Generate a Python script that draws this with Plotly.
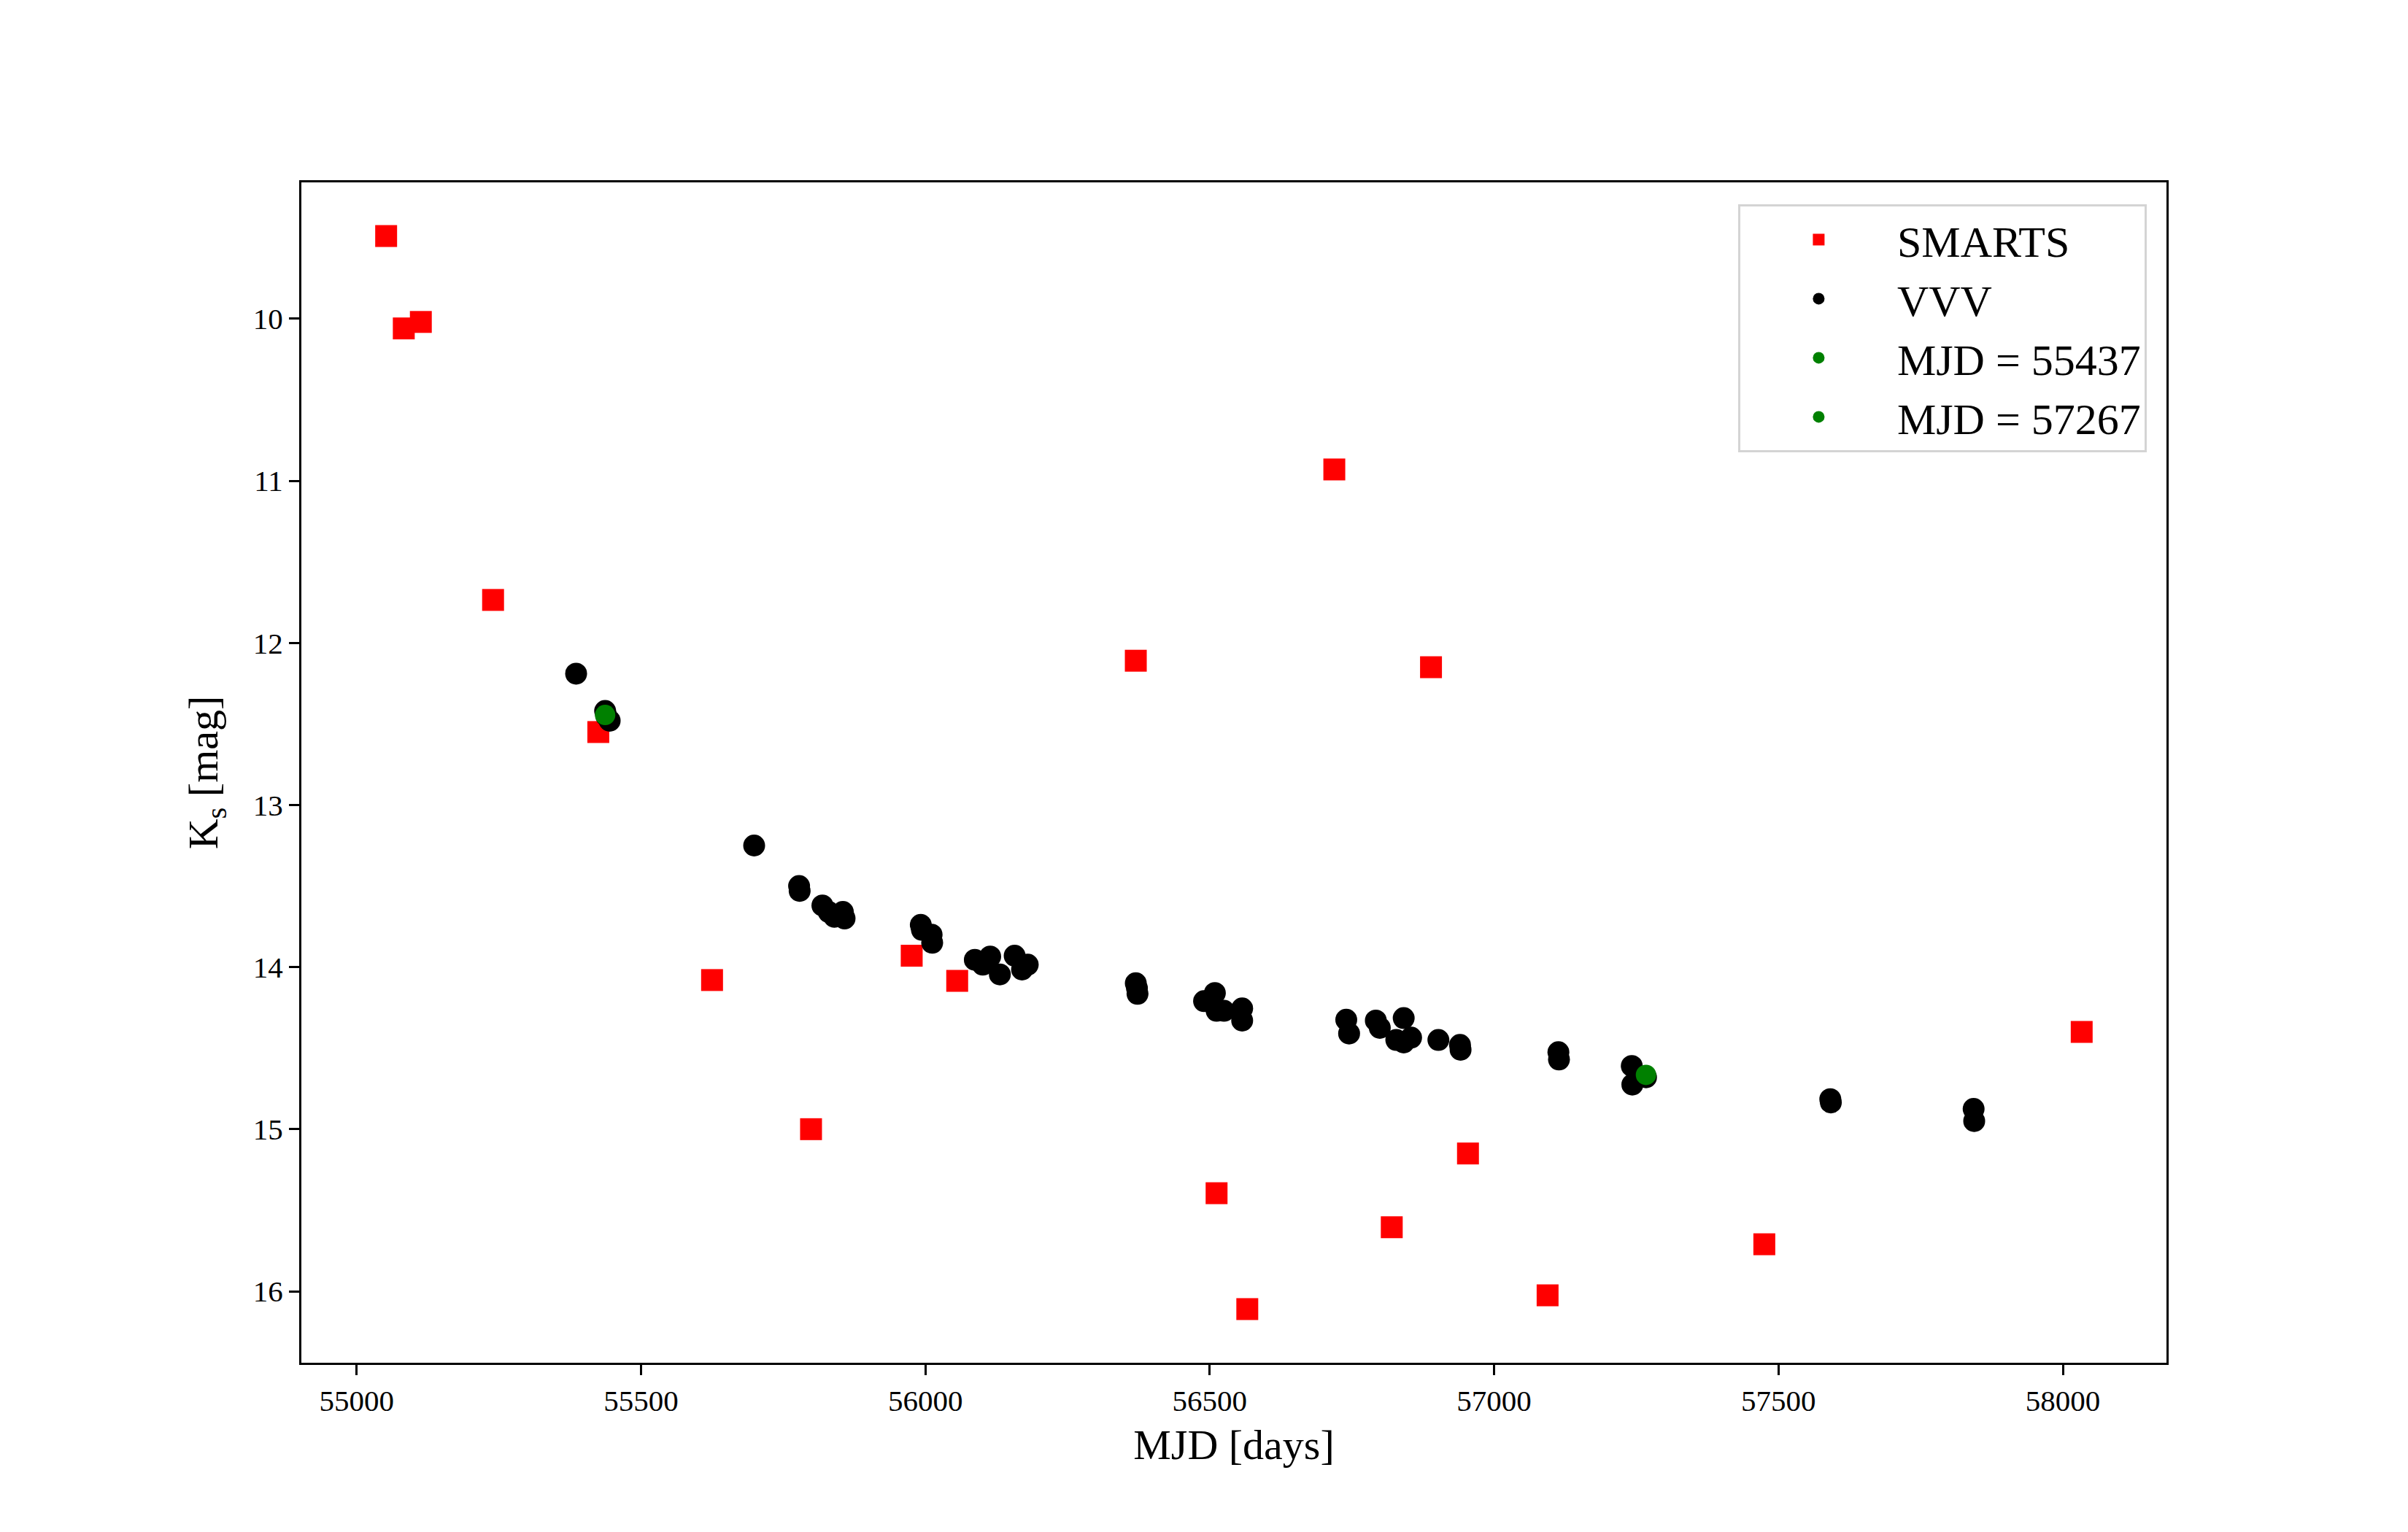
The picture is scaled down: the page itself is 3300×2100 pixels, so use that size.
import plotly.graph_objects as go

# SMARTS photometry
smarts_mjd = [55052, 55083, 55113, 55240, 55425, 55625, 55799, 55976, 56056, 56370,
              56512, 56566, 56719, 56820, 56889, 56954, 57094, 57475, 58033]
smarts_ks = [9.49, 10.06, 10.02, 11.735, 12.55, 14.08, 15.00, 13.93, 14.085, 12.11,
             15.395, 16.11, 10.93, 15.605, 12.15, 15.15, 16.025, 15.71, 14.40]

# VVV photometry
vvv_mjd = [55386, 55437, 55439, 55445, 55699, 55778, 55779, 55819, 55830, 55840,
           55855, 55858, 55992, 55994, 56011, 56012, 56087, 56101, 56114, 56131,
           56157, 56170, 56180, 56370, 56372, 56373, 56490, 56509, 56512, 56525,
           56557, 56557, 56740, 56745, 56792, 56799, 56828, 56841, 56841, 56854,
           56902, 56940, 56941, 57113, 57114, 57242, 57243, 57267, 57591, 57592,
           57843, 57844]
vvv_ks = [12.19, 12.42, 12.45, 12.48, 13.25, 13.50, 13.53, 13.62, 13.66, 13.69,
          13.66, 13.70, 13.74, 13.77, 13.80, 13.85, 13.955, 13.985, 13.935, 14.045,
          13.93, 14.015, 13.985, 14.10, 14.13, 14.165, 14.21, 14.16, 14.27, 14.27,
          14.255, 14.33, 14.325, 14.41, 14.33, 14.375, 14.45, 14.315, 14.465, 14.435,
          14.45, 14.48, 14.51, 14.525, 14.57, 14.61, 14.725, 14.68, 14.815, 14.835,
          14.875, 14.95]

# highlighted epochs
ep1_mjd = [55437]
ep1_ks = [12.445]
ep2_mjd = [57267]
ep2_ks = [14.665]

x_ticks = [55000, 55500, 56000, 56500, 57000, 57500, 58000]
y_ticks = [10, 11, 12, 13, 14, 15, 16]

FONT = "Liberation Serif"
MS = 30

fig = go.Figure()
fig.add_trace(go.Scatter(x=smarts_mjd, y=smarts_ks, mode="markers", name="SMARTS",
                         marker=dict(symbol="square", size=MS, color="#ff0000", line=dict(width=0))))
fig.add_trace(go.Scatter(x=vvv_mjd, y=vvv_ks, mode="markers", name="VVV",
                         marker=dict(symbol="circle", size=MS, color="#000000", line=dict(width=0))))
fig.add_trace(go.Scatter(x=ep1_mjd, y=ep1_ks, mode="markers", name="MJD = 55437",
                         marker=dict(symbol="circle", size=MS - 2, color="#008000", line=dict(width=0))))
fig.add_trace(go.Scatter(x=ep2_mjd, y=ep2_ks, mode="markers", name="MJD = 57267",
                         marker=dict(symbol="circle", size=MS - 2, color="#008000", line=dict(width=0))))

all_x = smarts_mjd + vvv_mjd + ep1_mjd + ep2_mjd
all_y = smarts_ks + vvv_ks + ep1_ks + ep2_ks
xpad = 0.05 * (max(all_x) - min(all_x))
ypad = 0.05 * (max(all_y) - min(all_y))

axis_common = dict(showgrid=False, zeroline=False, showline=True, linecolor="black",
                   linewidth=3, mirror=True, ticks="outside", ticklen=14, tickwidth=3,
                   tickcolor="black", tickfont=dict(family=FONT, size=41, color="black"))

fig.update_layout(
    width=3300, height=2100,
    margin=dict(l=413, r=331, t=250, b=232),
    paper_bgcolor="white", plot_bgcolor="white",
    font=dict(family=FONT, color="black"),
    xaxis=dict(range=[min(all_x) - xpad, max(all_x) + xpad], tickvals=x_ticks,
               ticktext=[str(v) for v in x_ticks],
               title=dict(text="MJD [days]", font=dict(family=FONT, size=58), standoff=18),
               **axis_common),
    yaxis=dict(range=[max(all_y) + ypad, min(all_y) - ypad], tickvals=y_ticks,
               ticktext=[str(v) for v in y_ticks],
               title=dict(text="K<sub>s</sub> [mag]", font=dict(family=FONT, size=58), standoff=30),
               **axis_common),
    legend=dict(x=0.9894, y=0.9815, xanchor="right", yanchor="top",
                bgcolor="white", bordercolor="#d4d4d4", borderwidth=3,
                font=dict(family=FONT, size=60, color="black"),
                itemwidth=205, tracegroupgap=0),
    showlegend=True,
)

fig.write_html("out.html")
